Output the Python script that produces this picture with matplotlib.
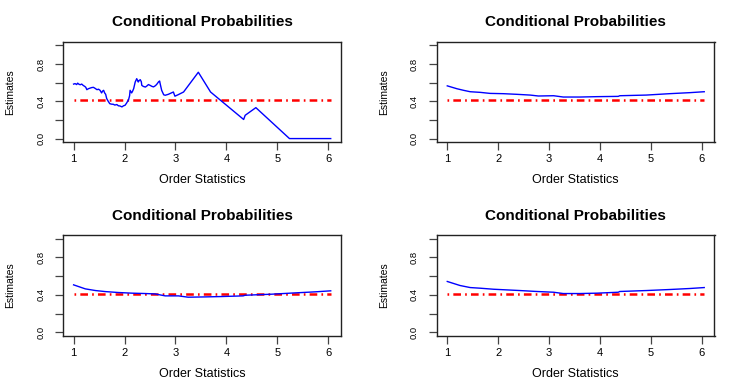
import matplotlib
matplotlib.use("Agg")
import matplotlib.pyplot as plt

plt.rcParams['font.family'] = ['Liberation Sans', 'DejaVu Sans']
plt.rcParams['lines.scale_dashes'] = False

# ---- data ----
title_text = "Conditional Probabilities"
xlabel_text = "Order Statistics"
ylabel_text = "Estimates"
reference_level = 0.41
x_ticks = [1, 2, 3, 4, 5, 6]
y_ticks = [0.0, 0.2, 0.4, 0.6, 0.8, 1.0]
y_tick_labels = ["0.0", "", "0.4", "", "0.8", ""]

p1_x = [1.00, 1.03, 1.06, 1.08, 1.10, 1.13, 1.16, 1.19, 1.22, 1.24, 1.26, 1.29,
        1.33, 1.36, 1.39, 1.42, 1.46, 1.49, 1.52, 1.55, 1.57, 1.59, 1.61, 1.63,
        1.65, 1.68, 1.71, 1.74, 1.78, 1.81, 1.85, 1.88, 1.91, 1.93, 1.95, 1.98,
        2.01, 2.04, 2.08, 2.10, 2.11, 2.14, 2.16, 2.18, 2.21, 2.24, 2.26, 2.27,
        2.29, 2.31, 2.33, 2.34, 2.37, 2.41, 2.44, 2.47, 2.50, 2.54, 2.57, 2.60,
        2.63, 2.67, 2.69, 2.70, 2.73, 2.77, 2.80, 2.86, 2.92, 2.96, 2.99, 3.05,
        3.16, 3.45, 3.69, 4.34, 4.37, 4.58, 5.24, 6.05]
p1_y = [0.585, 0.590, 0.580, 0.595, 0.585, 0.578, 0.585, 0.570, 0.560, 0.550, 0.525, 0.535,
        0.543, 0.548, 0.550, 0.540, 0.525, 0.530, 0.518, 0.490, 0.510, 0.518, 0.490, 0.475,
        0.430, 0.400, 0.375, 0.370, 0.368, 0.360, 0.365, 0.352, 0.350, 0.345, 0.340, 0.352,
        0.357, 0.380, 0.418, 0.460, 0.518, 0.490, 0.510, 0.536, 0.607, 0.643, 0.620, 0.607,
        0.625, 0.632, 0.610, 0.571, 0.560, 0.553, 0.565, 0.580, 0.572, 0.560, 0.555, 0.565,
        0.580, 0.610, 0.618, 0.590, 0.518, 0.470, 0.465, 0.475, 0.490, 0.500, 0.455, 0.470,
        0.500, 0.712, 0.500, 0.205, 0.250, 0.332, 0.000, 0.000]

p2_x = [1.00, 1.19, 1.32, 1.45, 1.65, 1.84, 2.10, 2.37, 2.63, 2.79, 3.09, 3.28,
        3.61, 3.94, 4.36, 4.39, 4.91, 5.37, 5.77, 6.05]
p2_y = [0.566, 0.535, 0.518, 0.503, 0.496, 0.485, 0.482, 0.475, 0.467, 0.457, 0.460, 0.446,
        0.446, 0.450, 0.453, 0.460, 0.467, 0.482, 0.493, 0.503]

p3_x = [1.00, 1.23, 1.43, 1.62, 1.88, 2.15, 2.41, 2.60, 2.80, 3.06, 3.25, 3.58,
        3.91, 4.33, 4.37, 4.89, 5.35, 5.74, 6.05]
p3_y = [0.507, 0.464, 0.446, 0.435, 0.425, 0.418, 0.414, 0.410, 0.389, 0.389, 0.375, 0.378,
        0.382, 0.389, 0.396, 0.407, 0.421, 0.432, 0.443]

p4_x = [1.00, 1.25, 1.45, 1.65, 1.91, 2.17, 2.43, 2.76, 3.09, 3.28, 3.61, 3.94,
        4.36, 4.39, 4.91, 5.37, 5.77, 6.05]
p4_y = [0.543, 0.500, 0.478, 0.471, 0.460, 0.453, 0.446, 0.436, 0.428, 0.414, 0.414, 0.418,
        0.428, 0.436, 0.446, 0.457, 0.468, 0.478]

ref_x = [1.0, 6.05]
ref_y = [reference_level, reference_level]

panels = [(p1_x, p1_y), (p2_x, p2_y), (p3_x, p3_y), (p4_x, p4_y)]

# ---- layout ----
W, H = 747, 388
fig = plt.figure(figsize=(W / 100, H / 100), dpi=100)
boxes = [(63.3, 41.7, 341.0, 142.3), (437.0, 41.7, 714.5, 142.3),
         (63.3, 235.0, 341.0, 336.0), (437.0, 235.0, 714.5, 336.0)]

for (xs, ys), (l, t, r, b) in zip(panels, boxes):
    ax = fig.add_axes([l / W, 1 - b / H, (r - l) / W, (b - t) / H])
    ax.plot(ref_x, ref_y, color='red', lw=1.8, dashes=[1.2, 3.0, 5.5, 3.0])
    ax.plot(xs, ys, color='#0000ff', lw=1.0)
    ax.set_xlim(0.798, 6.252)
    ax.set_ylim(-0.04, 1.04)
    ax.set_xticks(x_ticks)
    ax.set_xticklabels([str(v) for v in x_ticks], fontsize=8)
    ax.set_yticks(y_ticks)
    ax.set_yticklabels(y_tick_labels, fontsize=6.8, rotation=90, va='center')
    ax.tick_params(axis='both', direction='out', length=5.5, width=0.9, color='#444444')
    ax.tick_params(axis='x', pad=3)
    ax.tick_params(axis='y', pad=7.5)
    for s in ax.spines.values():
        s.set_linewidth(1.0)
        s.set_color('#222222')
    ax.set_title(title_text, fontsize=11, fontweight='bold', pad=11)
    ax.set_xlabel(xlabel_text, fontsize=9, labelpad=7)
    ax.set_ylabel(ylabel_text, fontsize=7.5, labelpad=15)

fig.savefig("out.png", dpi=100)
